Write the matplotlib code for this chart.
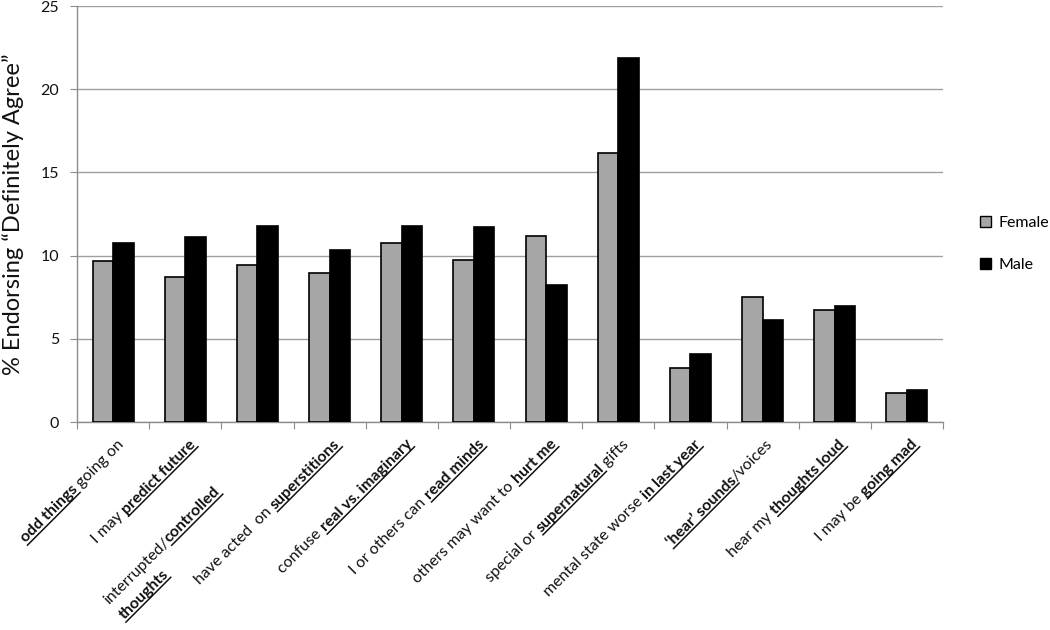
import numpy as np
import matplotlib
matplotlib.use("Agg")
import matplotlib.pyplot as plt
from matplotlib.lines import Line2D
from matplotlib.patches import Patch

# data
female = [9.66, 8.73, 9.42, 8.93, 10.78, 9.72, 11.19, 16.14, 3.27, 7.53, 6.75, 1.73]
male = [10.77, 11.1, 11.77, 10.34, 11.75, 11.73, 8.21, 21.88, 4.08, 6.14, 7.0, 1.95]

# tick labels: lines of (text, bold+underlined) segments
labels = [
    [[("odd things", True), (" going on", False)]],
    [[("I may ", False), ("predict future", True)]],
    [[("interrupted/", False), ("controlled", True)], [("thoughts", True)]],
    [[("have acted  on ", False), ("superstitions", True)]],
    [[("confuse ", False), ("real vs. imaginary", True)]],
    [[("I or others can ", False), ("read minds", True)]],
    [[("others may want to ", False), ("hurt me", True)]],
    [[("special or ", False), ("supernatural", True), (" gifts", False)]],
    [[("mental state worse ", False), ("in last year", True)]],
    [[("\u2018hear\u2019 sounds", True), ("/voices", False)]],
    [[("hear my ", False), ("thoughts loud", True)]],
    [[("I may be ", False), ("going mad", True)]],
]
series_names = ["Female", "Male"]
ylabel = "% Endorsing \u201cDefinitely Agree\u201d"

plt.rcParams['font.family'] = ['Lato', 'DejaVu Sans']

fig = plt.figure(figsize=(10.5, 6.3), dpi=100)
ax = fig.add_axes([77 / 1050, 1 - 422 / 630, 866 / 1050, 416 / 630])

x = np.arange(len(female))
w = 0.285
ax.bar(x - w / 2, female, w, color='#a6a6a6', edgecolor='black', linewidth=1.2, zorder=3)
ax.bar(x + w / 2, male, w, color='black', edgecolor='black', linewidth=1.2, zorder=3)

ax.set_xlim(-0.5, len(female) - 0.5)
ax.set_ylim(0, 25)
ax.set_yticks([0, 5, 10, 15, 20, 25])
ax.yaxis.grid(True, color='#a0a0a0', linewidth=1.0)
ax.set_axisbelow(True)
for s in ['top', 'right']:
    ax.spines[s].set_visible(False)
for s in ['left', 'bottom']:
    ax.spines[s].set_color('#8c8c8c')
    ax.spines[s].set_linewidth(1.0)
ax.tick_params(axis='y', colors='#8c8c8c', labelcolor='#111111', labelsize=11.5, length=5, pad=8)
ax.set_xticks(np.arange(-0.5, len(female), 1.0))
ax.set_xticklabels([])
ax.tick_params(axis='x', colors='#8c8c8c', length=5)
ax.set_ylabel(ylabel, fontsize=17, color='#111111', labelpad=12)

# legend
handles = [Patch(facecolor='#a6a6a6', edgecolor='black', linewidth=1.0),
           Patch(facecolor='black', edgecolor='black', linewidth=1.0)]
fig.legend(handles, series_names, loc='center left', bbox_to_anchor=(980 / 1050, 1 - 244 / 630),
           frameon=False, fontsize=11.5, handlelength=0.7, handleheight=0.7,
           handletextpad=0.45, labelspacing=1.7, borderpad=0, borderaxespad=0)

# rotated, partly bold + underlined x labels
fig.canvas.draw()
renderer = fig.canvas.get_renderer()
fs = 11.5


def text_width(s, bold):
    wt = 'bold' if bold else 'normal'
    t1 = fig.text(0, 0, "x" + s + "x", fontsize=fs, fontweight=wt)
    t2 = fig.text(0, 0, "xx", fontsize=fs, fontweight=wt)
    wdt = t1.get_window_extent(renderer).width - t2.get_window_extent(renderer).width
    t1.remove()
    t2.remove()
    return wdt


ang = np.deg2rad(45)
d = np.array([np.cos(ang), np.sin(ang)])
perp = np.array([np.sin(ang), -np.cos(ang)])  # towards "below" the text
inv = fig.transFigure.inverted()
line_gap = 22

for i, lines in enumerate(labels):
    cx, cy = ax.transData.transform((i, 0))
    end = np.array([cx + 11, cy - 23])
    if len(lines) > 1:
        end = end - 67 * d
    widths0 = [text_width(s, b) for s, b in lines[0]]
    start0 = end - sum(widths0) * d
    for li, segs in enumerate(lines):
        start = start0 + li * line_gap * perp
        pos = 0.0
        for s, b in segs:
            wd = text_width(s, b)
            p = inv.transform(start + pos * d)
            fig.text(p[0], p[1], s, fontsize=fs, fontweight='bold' if b else 'normal',
                     rotation=45, rotation_mode='anchor', ha='left', va='baseline',
                     color='#111111')
            if b:
                u0 = start + pos * d + 2.5 * perp
                u1 = start + (pos + wd) * d + 2.5 * perp
                q0, q1 = inv.transform(u0), inv.transform(u1)
                fig.add_artist(Line2D([q0[0], q1[0]], [q0[1], q1[1]], transform=fig.transFigure,
                                      color='#111111', linewidth=1.1))
            pos += wd

fig.savefig("out.png", dpi=100)
